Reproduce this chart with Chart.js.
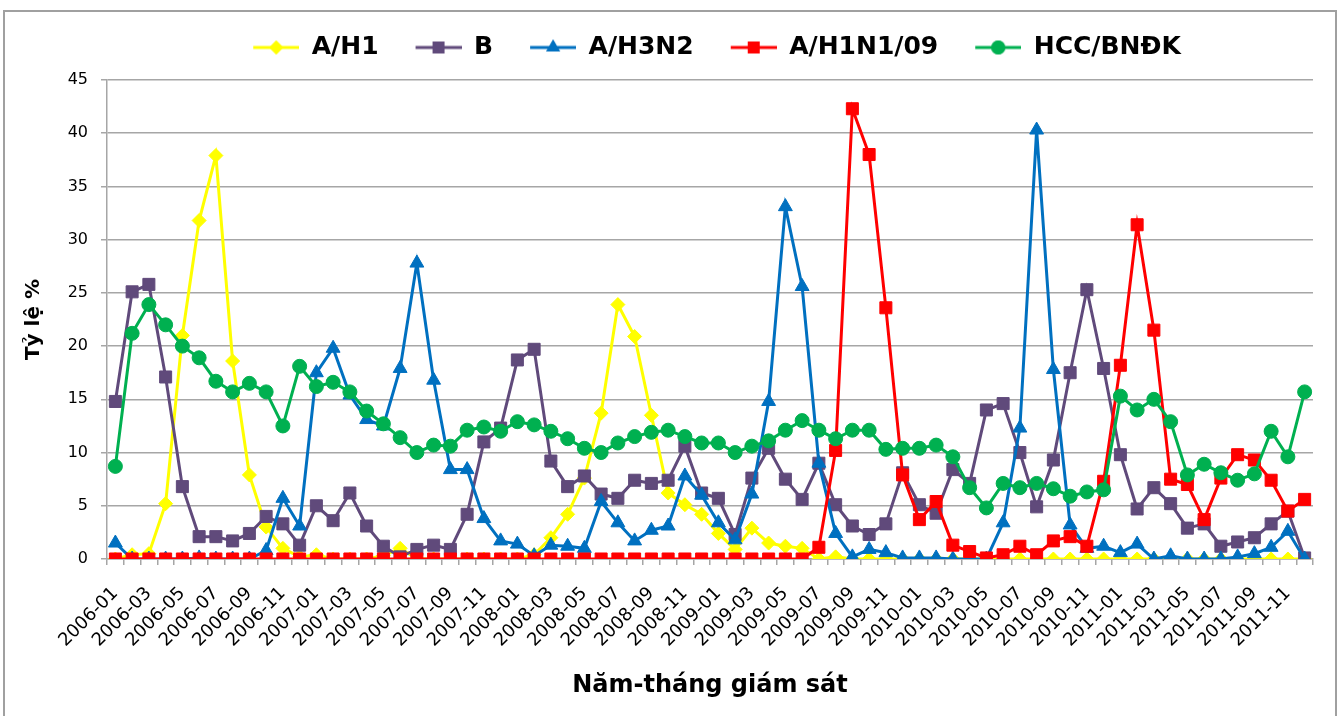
<!DOCTYPE html>
<html>
<head>
<meta charset="utf-8">
<script src="https://cdn.jsdelivr.net/npm/chart.js@4.4.1/dist/chart.umd.min.js"></script>
<style>
body { margin: 0; background: #fff; }
#wrap { width: 1340px; height: 716px; position: relative; }
</style>
</head>
<body>
<div id="wrap"><canvas id="fluChart"></canvas></div>
<script>
// thang giam sat 2006-01 .. 2011-12
const months = [
  '2006-01','2006-02','2006-03','2006-04','2006-05','2006-06','2006-07','2006-08','2006-09','2006-10','2006-11','2006-12',
  '2007-01','2007-02','2007-03','2007-04','2007-05','2007-06','2007-07','2007-08','2007-09','2007-10','2007-11','2007-12',
  '2008-01','2008-02','2008-03','2008-04','2008-05','2008-06','2008-07','2008-08','2008-09','2008-10','2008-11','2008-12',
  '2009-01','2009-02','2009-03','2009-04','2009-05','2009-06','2009-07','2009-08','2009-09','2009-10','2009-11','2009-12',
  '2010-01','2010-02','2010-03','2010-04','2010-05','2010-06','2010-07','2010-08','2010-09','2010-10','2010-11','2010-12',
  '2011-01','2011-02','2011-03','2011-04','2011-05','2011-06','2011-07','2011-08','2011-09','2011-10','2011-11','2011-12'
];

const aH1 = [
  0, 0.4, 0.5, 5.2, 21, 31.8, 37.9, 18.6, 7.9, 3.0, 1.0, 0.2,
  0.4, 0, 0, 0, 0.3, 1.0, 0, 0, 0, 0, 0, 0,
  0, 0.4, 2.0, 4.2, 7.6, 13.7, 23.9, 20.9, 13.5, 6.2, 5.1, 4.2,
  2.4, 0.9, 2.9, 1.5, 1.2, 1.0, 0, 0.2, 0, 0, 0, 0,
  0, 0, 0, 0, 0, 0, 0, 0, 0, 0, 0, 0,
  0, 0, 0, 0, 0, 0, 0, 0, 0, 0, 0, 0
];
const fluB = [
  14.8, 25.1, 25.8, 17.1, 6.8, 2.1, 2.1, 1.7, 2.4, 4.0, 3.3, 1.3,
  5.0, 3.6, 6.2, 3.1, 1.2, 0.2, 0.9, 1.3, 0.9, 4.2, 11.0, 12.3,
  18.7, 19.7, 9.2, 6.8, 7.8, 6.1, 5.7, 7.4, 7.1, 7.4, 10.6, 6.2,
  5.7, 2.3, 7.6, 10.4, 7.5, 5.6, 9.0, 5.1, 3.1, 2.3, 3.3, 8.1,
  5.1, 4.3, 8.4, 7.1, 14.0, 14.6, 10.0, 4.9, 9.3, 17.5, 25.3, 17.9,
  9.8, 4.7, 6.7, 5.2, 2.9, 3.3, 1.2, 1.6, 2.0, 3.3, 4.5, 0.1
];
const aH3N2 = [
  1.5, 0, 0, 0, 0, 0.1, 0, 0, 0, 0.8, 5.7, 3.1,
  17.5, 19.8, 15.4, 13.1, 12.5, 17.9, 27.8, 16.8, 8.4, 8.4, 3.8, 1.7,
  1.4, 0.3, 1.3, 1.2, 1.0, 5.4, 3.4, 1.7, 2.7, 3.1, 7.8, 6.0,
  3.4, 1.8, 6.1, 14.8, 33.1, 25.6, 9.0, 2.4, 0.2, 0.9, 0.6, 0.1,
  0.1, 0.1, 0, 0, 0, 3.4, 12.3, 40.3, 17.8, 3.2, 1.0, 1.2,
  0.6, 1.4, 0, 0.3, 0, 0, 0, 0.2, 0.5, 1.1, 2.6, 0
];
const aH1N1pdm = [
  0, 0, 0, 0, 0, 0, 0, 0, 0, 0, 0, 0,
  0, 0, 0, 0, 0, 0, 0, 0, 0, 0, 0, 0,
  0, 0, 0, 0, 0, 0, 0, 0, 0, 0, 0, 0,
  0, 0, 0, 0, 0, 0, 1.1, 10.2, 42.3, 38.0, 23.6, 7.9,
  3.7, 5.4, 1.3, 0.7, 0.1, 0.4, 1.2, 0.4, 1.7, 2.1, 1.2, 7.3,
  18.2, 31.4, 21.5, 7.5, 7.0, 3.7, 7.6, 9.8, 9.3, 7.4, 4.5, 5.6
];
const hccRate = [
  8.7, 21.2, 23.9, 22.0, 20.0, 18.9, 16.7, 15.7, 16.5, 15.7, 12.5, 18.1,
  16.2, 16.6, 15.7, 13.9, 12.7, 11.4, 10.0, 10.7, 10.6, 12.1, 12.4, 12.0,
  12.9, 12.6, 12.0, 11.3, 10.4, 10.0, 10.9, 11.5, 11.9, 12.1, 11.5, 10.9,
  10.9, 10.0, 10.6, 11.1, 12.1, 13.0, 12.1, 11.3, 12.1, 12.1, 10.3, 10.4,
  10.4, 10.7, 9.6, 6.7, 4.8, 7.1, 6.7, 7.1, 6.6, 5.9, 6.3, 6.5,
  15.3, 14.0, 15.0, 12.9, 7.9, 8.9, 8.1, 7.4, 8.0, 12.0, 9.6, 15.7
];

const FONT = 'DejaVu Sans';
const gridColor = '#a6a6a6';
const ICON_W = 73; // blank space on the left acts as the gap between legend items

// legend icon: short line + marker, like excel
makeLegendIcon = (color, style, r) => {
    const c = document.createElement('canvas');
    c.width = ICON_W;
    c.height = 20;
    const g = c.getContext('2d');
    g.strokeStyle = color;
    g.lineWidth = 3;
    g.beginPath();
    g.moveTo(ICON_W - 46, 10);
    g.lineTo(ICON_W, 10);
    g.stroke();
    g.fillStyle = color;
    Chart.helpers.drawPoint(g, {pointStyle: style, radius: r, borderWidth: 0}, ICON_W - 23, 10);
    g.fill();
    return c;
}

const mkSet = (label, data, color, style, r) => ({
    label: label,
    data: data,
    borderColor: color,
    backgroundColor: color,
    borderWidth: 3,
    pointStyle: style,
    pointRadius: r,
    pointHoverRadius: r,
    pointBorderWidth: 1,
    pointBackgroundColor: color,
    pointBorderColor: color,
    tension: 0,
    fill: false,
    legendIcon: makeLegendIcon(color, style, r)
});

// drawn last = on top, so green goes first
const datasets = [
    mkSet('HCC/BNĐK', hccRate, '#00b050', 'circle', 7),
    mkSet('A/H1N1/09', aH1N1pdm, '#ff0000', 'rect', 8.5),
    mkSet('A/H3N2', aH3N2, '#0070c0', 'triangle', 8),
    mkSet('B', fluB, '#604a7b', 'rect', 8.5),
    mkSet('A/H1', aH1, '#ffff00', 'rectRot', 7)
];

const framePlugin = {
    id: 'frame',
    beforeInit(chart) {
        const origFit = chart.legend.fit;
        chart.legend.fit = function () {
            origFit.call(this);
            this.height = 55;
        };
    },
    afterLayout(chart) {
        chart.legend.left += 47;
        chart.legend.right += 47;
    },
    beforeDraw(chart) {
        const ctx = chart.ctx;
        ctx.save();
        ctx.fillStyle = '#fff';
        ctx.fillRect(0, 0, chart.width, chart.height);
        ctx.strokeStyle = '#a0a0a0';
        ctx.lineWidth = 2;
        ctx.beginPath();
        ctx.moveTo(4, 800);
        ctx.lineTo(4, 11);
        ctx.lineTo(1336, 11);
        ctx.lineTo(1336, 800);
        ctx.stroke();
        ctx.restore();
    }
};

new Chart(document.getElementById('fluChart'), {
    type: 'line',
    data: { labels: months, datasets: datasets },
    plugins: [framePlugin],
    options: {
        responsive: true,
        maintainAspectRatio: false,
        animation: false,
        layout: { padding: { top: 25, left: 0, right: 27, bottom: 0 } },
        plugins: {
            tooltip: { enabled: false },
            legend: {
                position: 'top',
                reverse: true,
                labels: {
                    usePointStyle: true,
                    pointStyleWidth: ICON_W,
                    padding: 10,
                    color: '#000',
                    font: { family: FONT, size: 25, weight: 'bold' },
                    generateLabels: (chart) => chart.data.datasets.map((ds, i) => ({
                        text: ds.label,
                        pointStyle: ds.legendIcon,
                        fillStyle: ds.borderColor,
                        strokeStyle: ds.borderColor,
                        lineWidth: 0,
                        hidden: false,
                        datasetIndex: i
                    }))
                }
            }
        },
        scales: {
            x: {
                offset: true,
                afterFit: (s) => { s.height = 157; },
                grid: {
                    display: true,
                    offset: true,
                    drawOnChartArea: false,
                    color: gridColor,
                    tickLength: 6,
                    lineWidth: 1.5
                },
                border: { color: gridColor, width: 1.5 },
                ticks: {
                    autoSkip: false,
                    minRotation: 45,
                    maxRotation: 45,
                    padding: 18,
                    color: '#000',
                    font: { family: FONT, size: 18 },
                    callback: function (val, idx) {
                        return idx % 2 === 0 ? this.getLabelForValue(val) : '';
                    }
                },
                title: {
                    display: true,
                    text: 'Năm-tháng giám sát',
                    color: '#000',
                    font: { family: FONT, size: 24, weight: 'bold' },
                    padding: { top: 4, bottom: 16 }
                }
            },
            y: {
                min: 0,
                max: 45,
                afterFit: (s) => { s.width = 107; },
                ticks: {
                    stepSize: 5,
                    padding: 13,
                    color: '#000',
                    font: { family: FONT, size: 16 }
                },
                grid: {
                    color: gridColor,
                    lineWidth: 1.5,
                    tickLength: 6
                },
                border: { color: gridColor, width: 1.5 },
                title: {
                    display: true,
                    text: 'Tỷ lệ %',
                    color: '#000',
                    font: { family: FONT, size: 20, weight: 'bold' },
                    padding: { top: 22, bottom: 0 }
                }
            }
        }
    }
});
</script>
</body>
</html>
